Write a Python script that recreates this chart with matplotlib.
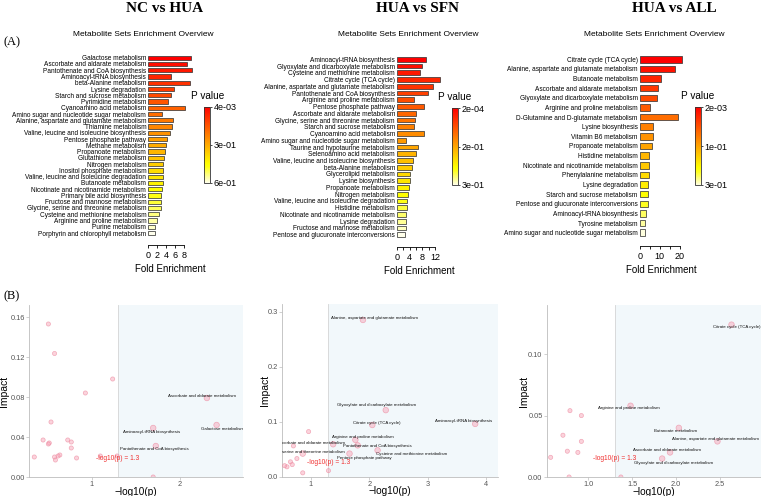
import numpy as np
import colorsys
import matplotlib
matplotlib.use("Agg")
import matplotlib.pyplot as plt
from matplotlib.colors import ListedColormap, LinearSegmentedColormap, Normalize
from matplotlib.cm import ScalarMappable

plt.rcParams['font.family'] = ['Liberation Sans', 'DejaVu Sans']

# ---------------- DATA ----------------
# Panel A1: NC vs HUA
a1_names = ["Galactose metabolism", "Ascorbate and aldarate metabolism",
            "Pantothenate and CoA biosynthesis", "Aminoacyl-tRNA biosynthesis",
            "beta-Alanine metabolism", "Lysine degradation", "Starch and sucrose metabolism",
            "Pyrimidine metabolism", "Cyanoamino acid metabolism",
            "Amino sugar and nucleotide sugar metabolism",
            "Alanine, aspartate and glutamate metabolism", "Thiamine metabolism",
            "Valine, leucine and isoleucine biosynthesis", "Pentose phosphate pathway",
            "Methane metabolism", "Propanoate metabolism", "Glutathione metabolism",
            "Nitrogen metabolism", "Inositol phosphate metabolism",
            "Valine, leucine and isoleucine degradation", "Butanoate metabolism",
            "Nicotinate and nicotinamide metabolism", "Primary bile acid biosynthesis",
            "Fructose and mannose metabolism", "Glycine, serine and threonine metabolism",
            "Cysteine and methionine metabolism", "Arginine and proline metabolism",
            "Purine metabolism", "Porphyrin and chlorophyll metabolism"]
a1_fe = [9.55, 8.7, 9.7, 5.2, 9.3, 5.7, 5.2, 4.4, 8.2, 3.0, 5.5, 5.4, 4.9, 4.1, 3.9,
         3.8, 3.6, 3.4, 3.4, 3.4, 3.4, 3.1, 2.8, 2.8, 2.8, 2.5, 1.9, 1.6, 1.4]
a1_p = [0.0038, 0.0049, 0.019, 0.020, 0.021, 0.051, 0.058, 0.079, 0.117, 0.148, 0.17,
        0.171, 0.186, 0.24, 0.257, 0.263, 0.264, 0.288, 0.30, 0.31, 0.311, 0.355, 0.39,
        0.42, 0.447, 0.47, 0.51, 0.55, 0.60]

# Panel A2: HUA vs SFN
a2_names = ["Aminoacyl-tRNA biosynthesis", "Glyoxylate and dicarboxylate metabolism",
            "Cysteine and methionine metabolism", "Citrate cycle (TCA cycle)",
            "Alanine, aspartate and glutamate metabolism", "Pantothenate and CoA biosynthesis",
            "Arginine and proline metabolism", "Pentose phosphate pathway",
            "Ascorbate and aldarate metabolism", "Glycine, serine and threonine metabolism",
            "Starch and sucrose metabolism", "Cyanoamino acid metabolism",
            "Amino sugar and nucleotide sugar metabolism", "Taurine and hypotaurine metabolism",
            "Selenoamino acid metabolism", "Valine, leucine and isoleucine biosynthesis",
            "beta-Alanine metabolism", "Glycerolipid metabolism", "Lysine biosynthesis",
            "Propanoate metabolism", "Nitrogen metabolism",
            "Valine, leucine and isoleucine degradation", "Histidine metabolism",
            "Nicotinate and nicotinamide metabolism", "Lysine degradation",
            "Fructose and mannose metabolism", "Pentose and glucuronate interconversions"]
a2_fe = [9.05, 8.0, 7.2, 13.5, 11.2, 9.9, 5.3, 8.4, 6.0, 5.6, 5.5, 8.4, 2.9, 6.7,
         6.1, 5.1, 4.8, 4.1, 4.1, 3.8, 3.6, 3.3, 3.1, 2.9, 2.8, 2.8, 2.6]
a2_p = [0.00016, 0.0052, 0.0072, 0.0089, 0.0129, 0.0158, 0.0174, 0.022, 0.042, 0.05,
        0.11, 0.13, 0.14, 0.17, 0.20, 0.21, 0.22, 0.24, 0.26, 0.261, 0.27, 0.271, 0.28,
        0.281, 0.29, 0.291, 0.30]

# Panel A3: HUA vs ALL
a3_names = ["Citrate cycle (TCA cycle)", "Alanine, aspartate and glutamate metabolism",
            "Butanoate metabolism", "Ascorbate and aldarate metabolism",
            "Glyoxylate and dicarboxylate metabolism", "Arginine and proline metabolism",
            "D-Glutamine and D-glutamate metabolism", "Lysine biosynthesis",
            "Vitamin B6 metabolism", "Propanoate metabolism", "Histidine metabolism",
            "Nicotinate and nicotinamide metabolism", "Phenylalanine metabolism",
            "Lysine degradation", "Starch and sucrose metabolism",
            "Pentose and glucuronate interconversions", "Aminoacyl-tRNA biosynthesis",
            "Tyrosine metabolism", "Amino sugar and nucleotide sugar metabolism"]
a3_fe = [21.3, 17.7, 10.5, 9.3, 8.5, 5.3, 19.3, 6.7, 6.7, 6.0, 4.8, 4.8, 4.5, 4.3,
         4.3, 4.0, 3.0, 2.8, 2.5]
a3_p = [0.0023, 0.0034, 0.0093, 0.0117, 0.0145, 0.033, 0.043, 0.10, 0.11, 0.12, 0.121,
        0.13, 0.16, 0.166, 0.17, 0.19, 0.27, 0.28, 0.30]

# Panel B1: NC vs HUA pathway impact
b1_x = [0.51, 0.58, 1.24, 0.93, 2.31, 2.42, 1.70, 1.73, 0.54, 0.45, 0.52, 0.51, 0.73,
        0.77, 0.77, 0.64, 0.62, 0.58, 0.59, 0.35, 0.83, 1.10, 1.29, 1.70]
b1_y = [0.153, 0.1235, 0.098, 0.084, 0.079, 0.052, 0.049, 0.031, 0.055, 0.037, 0.034,
        0.033, 0.037, 0.035, 0.029, 0.022, 0.021, 0.020, 0.017, 0.020, 0.019, 0.021,
        0.021, 0.000]
b1_labels = {4: "Ascorbate and aldarate metabolism", 5: "Galactose metabolism",
             6: "Aminoacyl-tRNA biosynthesis", 7: "Pantothenate and CoA biosynthesis"}

# Panel B2: HUA vs SFN pathway impact
b2_x = [1.89, 2.28, 3.81, 2.05, 1.76, 1.80, 2.14, 1.66, 1.38, 0.86, 0.96, 0.70, 0.76,
        0.65, 0.59, 0.68, 0.86, 1.30, 0.55]
b2_y = [0.285, 0.121, 0.096, 0.094, 0.067, 0.057, 0.048, 0.042, 0.059, 0.042, 0.082,
        0.056, 0.033, 0.027, 0.018, 0.022, 0.007, 0.011, 0.020]
b2_labels = {0: "Alanine, aspartate and glutamate metabolism",
             1: "Glyoxylate and dicarboxylate metabolism", 2: "Aminoacyl-tRNA biosynthesis",
             3: "Citrate cycle (TCA cycle)", 4: "Arginine and proline metabolism",
             5: "Pantothenate and CoA biosynthesis", 6: "Cysteine and methionine metabolism",
             7: "Pentose phosphate pathway", 8: "Ascorbate and aldarate metabolism",
             9: "Glycine, serine and threonine metabolism"}

# Panel B3: HUA vs ALL pathway impact
b3_x = [2.63, 1.48, 2.03, 2.47, 1.93, 1.84, 0.79, 0.92, 0.71, 0.92, 0.76, 0.88, 0.57,
        0.78, 1.37]
b3_y = [0.124, 0.058, 0.040, 0.029, 0.020, 0.015, 0.054, 0.050, 0.034, 0.029, 0.021,
        0.020, 0.016, 0.0, 0.0]
b3_labels = {0: "Citrate cycle (TCA cycle)", 1: "Arginine and proline metabolism",
             2: "Butanoate metabolism", 3: "Alanine, aspartate and glutamate metabolism",
             4: "Ascorbate and aldarate metabolism",
             5: "Glyoxylate and dicarboxylate metabolism"}

titles = ["NC vs HUA", "HUA vs SFN", "HUA vs ALL"]
threshold = 1.3

# ---------------- LAYOUT ----------------
W, H = 761, 496
fig = plt.figure(figsize=(W / 100, H / 100), dpi=100)


def ax_px(l, t, r, b):
    return fig.add_axes([l / W, 1 - b / H, (r - l) / W, (b - t) / H])


def heat_colors(n):
    j = n // 4
    i = n - j
    cols = [colorsys.hsv_to_rgb(h, 1, 1) for h in np.linspace(0, 1 / 6, i)]
    if j > 0:
        cols += [colorsys.hsv_to_rgb(1 / 6, s, 1)
                 for s in np.linspace(1 - 1 / (2 * j), 1 / (2 * j), j)]
    return cols


def bar_panel(names, fe, pv, x0, pxu, xmax, yfirst, ylast, axis_off, ticks, tlabels,
              cb, sub_x):
    n = len(names)
    sp = (ylast - yfirst) / (n - 1)
    ax = ax_px(x0, yfirst - 0.6 * sp, x0 + xmax * pxu, ylast + 0.6 * sp)
    cols = heat_colors(n)
    cmap = ListedColormap(cols)
    rank = np.argsort(np.argsort(pv))
    ax.barh(np.arange(n), fe, height=0.68, color=cmap(rank), edgecolor='#3a3a3a',
            linewidth=0.55)
    ax.set_xlim(0, xmax)
    ax.set_ylim(n - 0.4, -0.6)
    ax.set_yticks(np.arange(n))
    ax.set_yticklabels(names, fontsize=4.7)
    ax.tick_params(axis='y', length=0, pad=1.5)
    for s in ['top', 'right', 'left']:
        ax.spines[s].set_visible(False)
    ax.spines['bottom'].set_position(('outward', axis_off))
    ax.spines['bottom'].set_bounds(ticks[0], ticks[-1])
    ax.spines['bottom'].set_linewidth(0.6)
    ax.set_xticks(ticks)
    ax.set_xticklabels(tlabels)
    ax.tick_params(axis='x', length=2.5, width=0.6, labelsize=6.5, pad=1.5)
    ax.set_xlabel('Fold Enrichment', fontsize=7, labelpad=3)
    # colour legend
    cx0, cy0, cx1, cy1 = cb
    cax = ax_px(cx0, cy0, cx1, cy1)
    smooth = LinearSegmentedColormap.from_list('heat', cols)
    pmin, pmed, pmax = np.min(pv), np.median(pv), np.max(pv)
    cbar = fig.colorbar(ScalarMappable(norm=Normalize(0, 1), cmap=smooth), cax=cax)
    cax.invert_yaxis()
    cbar.set_ticks([0, 0.5, 1])
    cbar.set_ticklabels([f"{pmin:.0e}", f"{pmed:.0e}", f"{pmax:.0e}"])
    cax.tick_params(labelsize=6.5, length=1.5, width=0.5, pad=1)
    cbar.outline.set_linewidth(0.6)
    cbar.outline.set_edgecolor('#333333')
    fig.text((cx0 + cx1) / 2 / W, 1 - (cy0 - 11) / H, "P value", fontsize=7.2,
             ha='center', va='center')
    fig.text(sub_x / W, 1 - 34.5 / H, "Metabolite Sets Enrichment Overview",
             fontsize=6, ha='center', va='center')
    return ax


bar_panel(a1_names, a1_fe, a1_p, 148.3, 4.46, 10.0, 57.7, 233.0, 6,
          [0, 2, 4, 6, 8], ["0", "2", "4", "6", "8"], (204.3, 106.7, 210, 183), 143)
bar_panel(a2_names, a2_fe, a2_p, 397.0, 3.17, 14.0, 59.3, 234.7, 6,
          [0, 2, 4, 6, 8, 10, 12], ["0", "", "4", "", "8", "", "12"],
          (452.3, 108.3, 457.7, 185), 408)
bar_panel(a3_names, a3_fe, a3_p, 639.7, 2.0, 22.0, 59.3, 232.7, 5.5,
          [0, 5, 10, 15, 20], ["0", "", "10", "", "20"], (695.3, 107.3, 700.7, 185), 654)

for t, x in zip(titles, [164.5, 417, 674.7]):
    fig.text(x / W, 1 - 11.5 / H, t, fontsize=11, fontweight='bold', ha='center',
             va='baseline', family='Liberation Serif')
fig.text(12 / W, 1 - 42 / H, "(A)", fontsize=9, ha='center', va='center',
         family='Liberation Serif')
fig.text(12 / W, 1 - 296 / H, "(B)", fontsize=9, ha='center', va='center',
         family='Liberation Serif')


def scatter_panel(box, xs, ys, labels, offsets, xlim, ylim, xticks, xfmt, yticks, yfmt,
                  thr_y, ylab_x):
    ax = ax_px(*box)
    ax.axvspan(threshold, xlim[1], color='#F2F8FB', zorder=0, lw=0)
    ax.axvline(threshold, color='#D5D5D5', lw=0.6, zorder=1)
    sizes = [16 if i in labels else 9 for i in range(len(xs))]
    ax.scatter(xs, ys, s=sizes, facecolor=(0.97, 0.62, 0.70, 0.45),
               edgecolor=(0.93, 0.55, 0.63, 0.7), linewidth=0.5, zorder=3, clip_on=True)
    for i, name in labels.items():
        dx, dy = offsets[i]
        ax.annotate(name, (xs[i], ys[i]), xytext=(dx, dy), textcoords='offset pixels',
                    ha='center', va='center', fontsize=3.2, color='#111111',
                    annotation_clip=False, clip_on=True, zorder=4)
    ax.text(threshold, thr_y, "-log10(p) = 1.3", color='#F03030', fontsize=4.8,
            ha='center', va='center', zorder=4)
    ax.set_xlim(*xlim)
    ax.set_ylim(*ylim)
    ax.set_xticks(xticks)
    ax.set_xticklabels([xfmt.format(v) for v in xticks])
    ax.set_yticks(yticks)
    ax.set_yticklabels([yfmt.format(v) for v in yticks])
    ax.set_facecolor('white')
    for s in ['top', 'right']:
        ax.spines[s].set_visible(False)
    for s in ['left', 'bottom']:
        ax.spines[s].set_color('#BDBDBD')
        ax.spines[s].set_linewidth(0.6)
    ax.tick_params(labelsize=5.3, labelcolor='#555555', color='#BDBDBD', length=2,
                   width=0.5, pad=1)
    ax.set_xlabel("\u2212log10(p)", fontsize=7.2, labelpad=-1)
    fig.text(ylab_x / W, 1 - (box[1] + box[3]) / 2 / H, "Impact", rotation=90,
             fontsize=7.5, ha='center', va='center')
    return ax


b1_off = {4: (-5, 2), 5: (6, -4.3), 6: (-1.3, -4), 7: (-1, -3.3)}
scatter_panel((29, 305, 243, 477), b1_x, b1_y, b1_labels, b1_off, (0.29, 2.72),
              (0, 0.172), [1, 2], "{:d}", [0, 0.04, 0.08, 0.12, 0.16], "{:.2f}", 0.018, 4.5)

b2_off = {0: (11.3, 1.7), 1: (-9, 4.7), 2: (-11.7, 3.3), 3: (4.3, 2.3), 4: (7.3, 3.3),
          5: (20, -0.7), 6: (34, -3.7), 7: (14.7, -4.7), 8: (-22.3, 1.3), 9: (1.7, 1.7)}
scatter_panel((281.7, 304, 498, 476.7), b2_x, b2_y, b2_labels, b2_off, (0.5, 4.2),
              (0, 0.314), [1, 2, 3, 4], "{:d}", [0, 0.1, 0.2, 0.3], "{:.1f}", 0.026, 265)

b3_off = {0: (5, -2.3), 1: (-2, -2.3), 2: (-3.3, -2.7), 3: (-2, 2.3), 4: (-3, 2),
          5: (11, -4)}
scatter_panel((546.7, 305, 761, 477), b3_x, b3_y, b3_labels, b3_off, (0.525, 2.966),
              (0, 0.14), [1.0, 1.5, 2.0, 2.5], "{:.1f}", [0, 0.05, 0.10], "{:.2f}",
              0.015, 524)

fig.savefig("out.png", dpi=100)
